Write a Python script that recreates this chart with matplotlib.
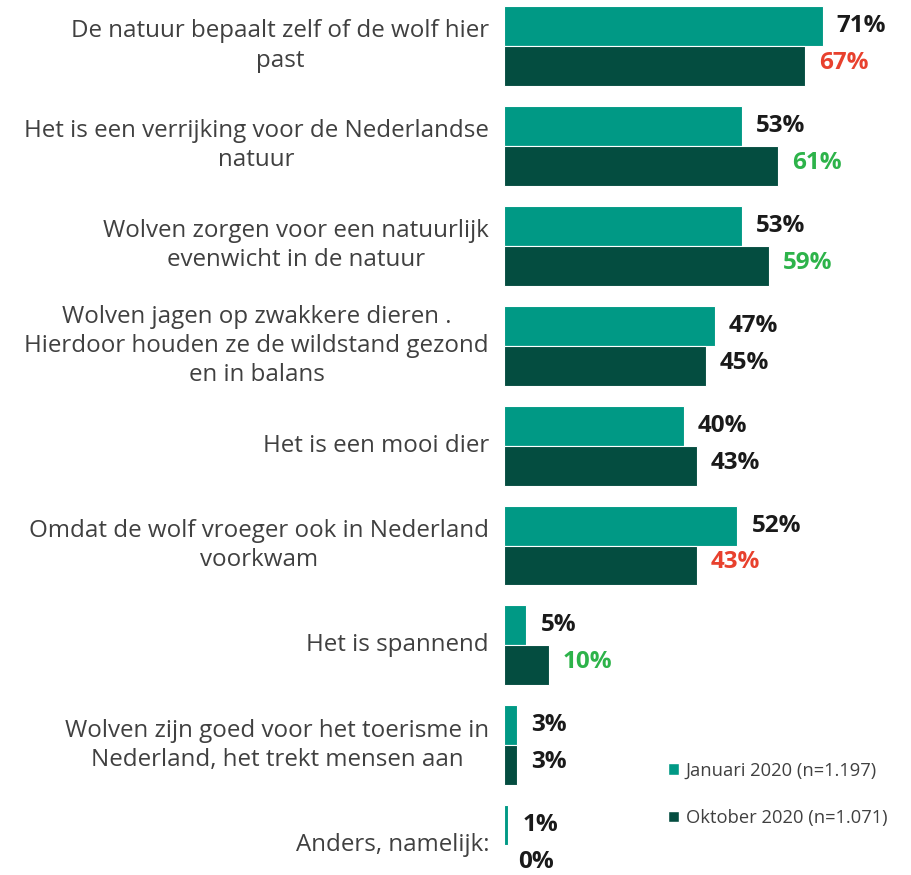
import matplotlib
matplotlib.use("Agg")
import matplotlib.pyplot as plt
from matplotlib.patches import Patch

categories = [
    "De natuur bepaalt zelf of de wolf hier\npast",
    "Het is een verrijking voor de Nederlandse\nnatuur",
    "Wolven zorgen voor een natuurlijk\nevenwicht in de natuur",
    "Wolven jagen op zwakkere dieren .\nHierdoor houden ze de wildstand gezond\nen in balans",
    "Het is een mooi dier",
    "Omdat de wolf vroeger ook in Nederland\nvoorkwam",
    "Het is spannend",
    "Wolven zijn goed voor het toerisme in\nNederland, het trekt mensen aan",
    "Anders, namelijk:",
]
jan_2020 = [71, 53, 53, 47, 40, 52, 5, 3, 1]
okt_2020 = [67, 61, 59, 45, 43, 43, 10, 3, 0]
# change marker for the october label: -1 lower, +1 higher, 0 same
okt_change = [-1, 1, 1, 0, 0, -1, 1, 0, 0]
series_names = ["Januari 2020 (n=1.197)", "Oktober 2020 (n=1.071)"]

c_jan = "#009985"
c_okt = "#044d40"
c_txt = "#1a1a1a"
c_lbl = "#404040"
change_colors = {-1: "#e8412e", 0: c_txt, 1: "#2db34a"}

plt.rcParams["font.family"] = ["Open Sans", "DejaVu Sans"]

W, H = 912, 875
fig = plt.figure(figsize=(W / 100, H / 100), dpi=100)
x0 = 504
ax = fig.add_axes([x0 / W, 0, (W - x0) / W, 1])
px_per_pct = 4.49
ax.set_xlim(0, (W - x0) / px_per_pct)
step = 99.9
ax.set_ylim((H - 46) / step, -46 / step)
ax.axis("off")

bh = 0.4
ys = list(range(len(categories)))
ax.barh([y - bh / 2 for y in ys], jan_2020, height=bh, color=c_jan,
        edgecolor="white", linewidth=0.8)
ax.barh([y + bh / 2 for y in ys], okt_2020, height=bh, color=c_okt,
        edgecolor="white", linewidth=0.8)

off = 14 / px_per_pct
nudge = 3 / step  # keep the last label inside the bottom edge
for y, v in zip(ys, jan_2020):
    ax.text(v + off, y - bh / 2, f"{v}%", va="center", ha="left",
            fontsize=17.5, fontweight="bold", color=c_txt)
for y, v, ch in zip(ys, okt_2020, okt_change):
    ax.text(v + off, y + bh / 2 - nudge, f"{v}%", va="center", ha="left",
            fontsize=17.5, fontweight="bold", color=change_colors[ch])

for y, lab in zip(ys, categories):
    ax.text(-15 / px_per_pct, y, lab, ha="right", va="center",
            multialignment="center", fontsize=17.4, color=c_lbl,
            linespacing=1.28, clip_on=False)

handles = [Patch(facecolor=c_jan, edgecolor="white"),
           Patch(facecolor=c_okt, edgecolor="white")]
fig.legend(handles, series_names, loc="upper left",
           bbox_to_anchor=(652 / W, 1 - 745 / H), frameon=False,
           fontsize=13.2, labelcolor=c_lbl, handlelength=0.6,
           handleheight=0.6, handletextpad=0.35, labelspacing=1.6)

fig.savefig("out.png", dpi=100, facecolor="white")
